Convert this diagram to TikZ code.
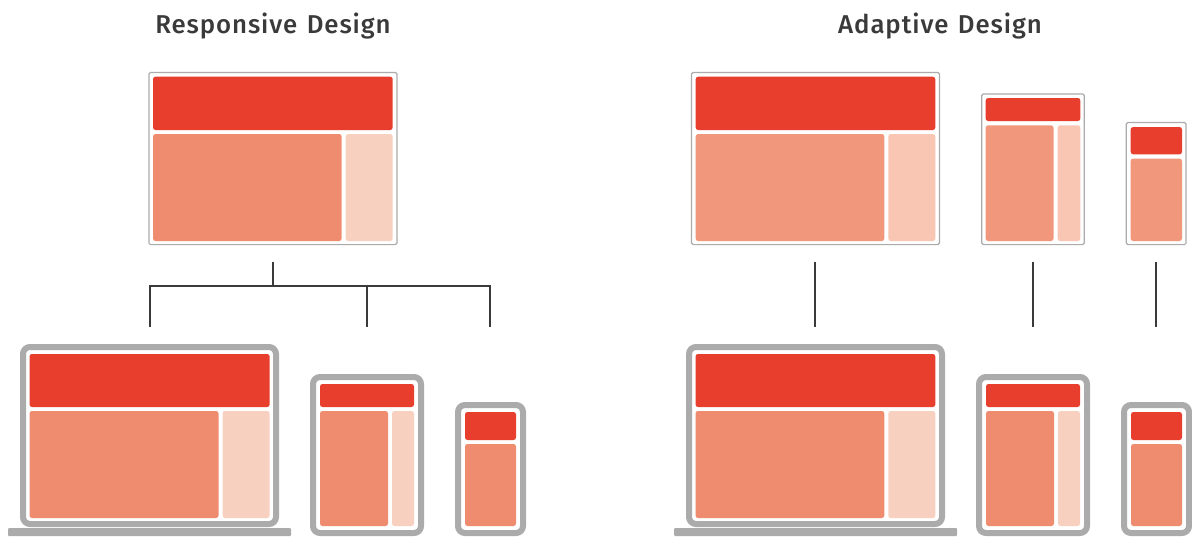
\documentclass[tikz,border=0pt]{standalone}
\usepackage{fontspec}
\setmainfont{Fira Sans}
\newfontfamily\hfont[LetterSpace=3.5,WordSpace=1.3]{Fira Sans Medium}
\definecolor{cred}{HTML}{E83E2D}
\definecolor{csalA}{HTML}{EF8C70}
\definecolor{clightA}{HTML}{F8D0C0}
\definecolor{csalB}{HTML}{F1977B}
\definecolor{clightB}{HTML}{F8C6B2}
\definecolor{cgrey}{HTML}{ABABAB}
\definecolor{cink}{HTML}{3A3A3A}
\newcommand{\rbox}[6]{% style, name, x1, y1, x2, y2
  \pgfmathsetmacro{\rw}{#5-#3}\pgfmathsetmacro{\rh}{#6-#4}
  \node[#1,minimum width=\rw pt,minimum height=\rh pt] (#2) at (#3,#4) {};}
\tikzset{
  base/.style={anchor=north west,inner sep=0pt,outer sep=0pt,rectangle},
  screen/.style={base,draw=cgrey,fill=white,line width=1.2pt,rounded corners=1.5pt},
  device/.style={base,draw=cgrey,fill=white,line width=6pt,rounded corners=7pt},
  stand/.style={base,fill=cgrey,rounded corners=1pt},
  head/.style={base,fill=cred,rounded corners=2.5pt},
  mainA/.style={base,fill=csalA,rounded corners=2.5pt},
  sideA/.style={base,fill=clightA,rounded corners=2.5pt},
  mainB/.style={base,fill=csalB,rounded corners=2.5pt},
  sideB/.style={base,fill=clightB,rounded corners=2.5pt},
  link/.style={draw=cink,line width=1.4pt},
  heading/.style={text=cink,font=\hfont\fontsize{25.8}{30}\selectfont,inner sep=0pt}
}
\begin{document}
\begin{tikzpicture}[x=1pt,y=-1pt]
\useasboundingbox (0,0) rectangle (1192,541);
\fill[white] (0,0) rectangle (1192,541);
\node[heading] (t1) at (273,26) {Responsive Design};
\node[heading] (t2) at (940,26) {Adaptive Design};
% Responsive source
\rbox{screen}{rs}{149}{72.5}{396.9}{244.6}
\rbox{head}{rsh}{153}{76.7}{392.7}{130}
\rbox{mainA}{rsm}{153}{134}{341.7}{241}
\rbox{sideA}{rss}{345.7}{134}{392.7}{241}
% Responsive devices
\rbox{stand}{lb}{8}{528}{291}{536}
\rbox{device}{ld}{23}{347}{276}{524}
\rbox{head}{ldh}{29.5}{354}{269.7}{407}
\rbox{mainA}{ldm}{29.5}{411}{218.5}{518}
\rbox{sideA}{lds}{222.5}{411}{269.7}{518}
\rbox{device}{td}{313}{377}{421}{533}
\rbox{head}{tdh}{320}{384}{414}{407}
\rbox{mainA}{tdm}{320}{411}{388}{526}
\rbox{sideA}{tds}{392}{411}{414}{526}
\rbox{device}{pd}{458}{405}{523}{533}
\rbox{head}{pdh}{465}{412}{516}{440}
\rbox{mainA}{pdm}{465}{444}{516}{526}
% Responsive connector
\coordinate (c0) at (273,262);
\coordinate (c1) at (273,286);
\coordinate (c2) at (262,286);
\coordinate (cl) at (150,327);
\coordinate (cm) at (367,327);
\coordinate (cr) at (490,327);
\coordinate (cmt) at (367,286);
\draw[link] (c0) -- (c1);
\draw[link,line width=1.2pt] (cl) |- (cr |- c1) -- (cr);
\draw[link,line width=2.4pt] (c2) -- (c1);
\draw[link] (cmt) -- (cm);
% Adaptive sources
\rbox{screen}{as1}{691.5}{72.5}{939.4}{244.6}
\rbox{head}{as1h}{695.7}{76.7}{935.3}{130}
\rbox{mainB}{as1m}{695.7}{134}{884.3}{241}
\rbox{sideB}{as1s}{888.3}{134}{935.3}{241}
\rbox{screen}{as2}{981.8}{94}{1084.2}{244.6}
\rbox{head}{as2h}{985.7}{98}{1080.3}{121}
\rbox{mainB}{as2m}{985.7}{125.3}{1053.5}{241}
\rbox{sideB}{as2s}{1057.7}{125.3}{1080.3}{241}
\rbox{screen}{as3}{1126.3}{122.5}{1186}{244.6}
\rbox{head}{as3h}{1130.7}{127}{1182}{154.3}
\rbox{mainB}{as3m}{1130.7}{158.5}{1182}{241}
% Adaptive devices
\rbox{stand}{alb}{674}{528}{957}{536}
\rbox{device}{ald}{689}{347}{942}{524}
\rbox{head}{aldh}{695.5}{354}{935.3}{407}
\rbox{mainA}{aldm}{695.5}{411}{884.3}{518}
\rbox{sideA}{alds}{888.3}{411}{935.3}{518}
\rbox{device}{atd}{979}{377}{1087}{533}
\rbox{head}{atdh}{986}{384}{1080}{407}
\rbox{mainA}{atdm}{986}{411}{1054}{526}
\rbox{sideA}{atds}{1058}{411}{1080}{526}
\rbox{device}{apd}{1124}{405}{1189}{533}
\rbox{head}{apdh}{1131}{412}{1182}{440}
\rbox{mainA}{apdm}{1131}{444}{1182}{526}
% Adaptive connectors
\coordinate (a1a) at (815,262); \coordinate (a1b) at (815,327);
\coordinate (a2a) at (1033,262); \coordinate (a2b) at (1033,327);
\coordinate (a3a) at (1156,262); \coordinate (a3b) at (1156,327);
\draw[link] (a1a) -- (a1b);
\draw[link] (a2a) -- (a2b);
\draw[link] (a3a) -- (a3b);
\end{tikzpicture}
\end{document}
